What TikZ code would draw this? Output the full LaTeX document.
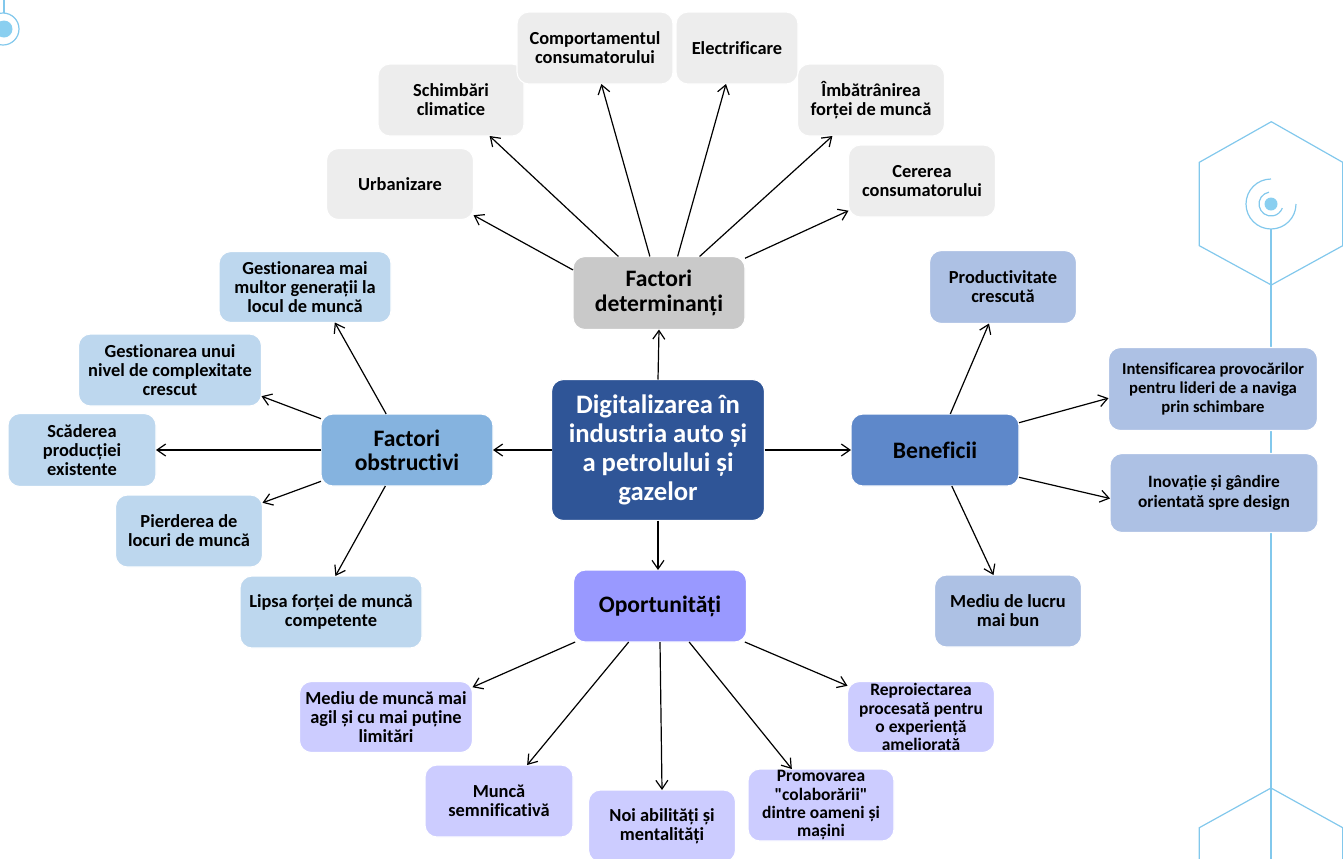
\documentclass[tikz,border=0pt]{standalone}
\usepackage{fontspec}
\setmainfont{Carlito}[Ligatures={NoCommon}]
\newfontfamily\qfont{Carlito}[Ligatures={NoCommon}]
\newcommand{\sq}{{\qfont\bfseries\char34}}
\usetikzlibrary{arrows.meta}
\definecolor{cgray}{HTML}{EDEDED}
\definecolor{cfd}{HTML}{C9C9C9}
\definecolor{ccenter}{HTML}{2F5597}
\definecolor{cfo}{HTML}{85B3DF}
\definecolor{clb}{HTML}{BDD7EE}
\definecolor{cben}{HTML}{5E88CA}
\definecolor{crb}{HTML}{ADC1E4}
\definecolor{cop}{HTML}{9999FF}
\definecolor{cpb}{HTML}{CCCCFF}
\definecolor{cdeco}{HTML}{82C8EC}
\definecolor{cdecofill}{HTML}{8ACFF0}
\begin{document}
\begin{tikzpicture}[x=0.75pt,y=-0.75pt,
  base/.style={rectangle, rounded corners=9pt, draw=white, line width=0.8pt, align=center,
    inner sep=0pt, outer sep=0pt, text=black, font=\bfseries\fontsize{13.8}{14.4}\selectfont},
  sz/.style 2 args={minimum width=#1*0.75pt, minimum height=#2*0.75pt},
  bigtext/.style={font=\bfseries\fontsize{17.7}{18.2}\selectfont},
  gbox/.style={base, fill=cgray},
  fdbox/.style={base, bigtext, fill=cfd},
  cbox/.style={base, fill=ccenter, text=white, font=\bfseries\fontsize{20}{21.8}\selectfont},
  fobox/.style={base, bigtext, fill=cfo},
  lbbox/.style={base, fill=clb},
  benbox/.style={base, bigtext, fill=cben},
  rbbox/.style={base, fill=crb},
  opbox/.style={base, bigtext, fill=cop},
  pbox/.style={base, fill=cpb},
  tight/.style={font=\bfseries\fontsize{13.1}{13.6}\selectfont},
  arr/.style={-{Straight Barb[length=6.5pt,width=9pt]}, line width=0.9pt, black},
  deco/.style={draw=cdeco, line width=0.9pt}
]
\useasboundingbox (0,0) rectangle (1343,858);

% decorations
\draw[deco] (4,0) -- (4,13);
\draw[deco] (3,29) circle[radius=16];
\fill[cdecofill] (4,29) circle[radius=8.5];
\coordinate (hc) at (1271,204);
\draw[deco] (1271.3,121.7) -- (1342.7,162.3) -- (1342.7,245.7) -- (1271.3,285) -- (1199.3,245.7) -- (1199.3,162.3) -- cycle;
\fill[cdecofill] (hc) circle[radius=6.5];
\draw[deco] ([shift={(-100:12)}]hc) arc[start angle=-100, end angle=-340, radius=12];
\draw[deco] ([shift={(-90:25)}]hc) arc[start angle=-90, end angle=-360, radius=25];
\draw[deco] (1271,229) -- (1271,860);
\draw[deco] (1199.3,870) -- (1199.3,827.7) -- (1271,788) -- (1342.7,827.7) -- (1342.7,870);

% top: factori determinanti
\node[gbox, sz={147}{71}] (urb) at (400,184) {Urbanizare};
\node[gbox, sz={146}{72}] (sch) at (451,100) {Schimbări\\climatice};
\node[gbox, sz={156}{72}] (comp) at (595,48) {Comportamentul\\consumatorului};
\node[gbox, sz={122}{72}] (elec) at (737,48) {Electrificare};
\node[gbox, sz={147}{72}] (imb) at (871,100) {Îmbătrânirea\\forței de muncă};
\node[gbox, sz={147}{72}] (cer) at (922,181) {Cererea\\consumatorului};
\node[fdbox, sz={172}{73}] (fd) at (659,293) {Factori\\determinanți};

% center
\node[cbox, sz={213}{141}] (c) at (658,450) {Digitalizarea în\\industria auto și\\a petrolului și\\gazelor};

% left: factori obstructivi
\node[fobox, sz={172}{72}] (fo) at (407,450) {Factori\\obstructivi};
\node[lbbox, sz={172}{71}] (gm) at (305,287) {Gestionarea mai\\multor generații la\\locul de muncă};
\node[lbbox, sz={183}{72}] (gu) at (170,370) {Gestionarea unui\\nivel de complexitate\\crescut};
\node[lbbox, sz={148}{73}] (sc) at (82,450) {Scăderea\\producției\\existente};
\node[lbbox, sz={147}{72}] (pi) at (189,531) {Pierderea de\\locuri de muncă};
\node[lbbox, sz={182}{72}] (li) at (331,612) {Lipsa forței de muncă\\competente};

% right: beneficii
\node[benbox, sz={168}{72}] (ben) at (935,450) {Beneficii};
\node[rbbox, sz={147}{73}] (prod) at (1003,287) {Productivitate\\crescută};
\node[rbbox, sz={209}{83}, font=\bfseries\fontsize{12.5}{14.2}\selectfont] (int) at (1213,389) {Intensificarea provocărilor\\pentru lideri de a naviga\\prin schimbare};
\node[rbbox, sz={208}{79}, font=\bfseries\fontsize{13}{14.8}\selectfont] (inov) at (1214,493) {Inovație și gândire\\orientată spre design};
\node[rbbox, sz={147}{72}] (med) at (1008,611) {Mediu de lucru\\mai bun};

% bottom: oportunitati
\node[opbox, sz={173}{72}] (op) at (660,606) {Oportunități};
\node[pbox, sz={173}{71}] (agil) at (386,717) {Mediu de muncă mai\\agil și cu mai puține\\limitări};
\node[pbox, sz={148}{72}] (munca) at (499,801) {Muncă\\semnificativă};
\node[pbox, sz={147}{72}] (noi) at (662,826) {Noi abilități și\\mentalități};
\node[pbox, tight, sz={146}{72}] (prom) at (821,805) {Promovarea\\\sq colaborării\sq\\dintre oameni și\\mașini};
\node[pbox, tight, sz={147}{71}] (rep) at (921,717) {Reproiectarea\\procesată pentru\\o experiență\\ameliorată};

% connectors
\draw[arr] (c.north) -- (fd.south);
\draw[arr] (c.west) -- (fo.east);
\draw[arr] (c.east) -- (ben.west);
\draw[arr] (c.south) -- (op.north -| c.south);

\draw[arr] (fd.165) -- (urb.-23);
\draw[arr] (fd.138) -- (sch.-43);
\draw[arr] (fd.104) -- (comp.-80);
\draw[arr] (fd.63) -- (elec.-107);
\draw[arr] (fd.42) -- (imb.-137);
\draw[arr] (fd.22) -- (cer.-158);

\draw[arr] (fo.120) -- (gm.-50);
\draw[arr] (fo.160) -- (gu.-16);
\draw[arr] (fo.west) -- (sc.east);
\draw[arr] (fo.200) -- (pi.21);
\draw[arr] (fo.-121) -- (li.83);

\draw[arr] (ben.67) -- (prod.-111);
\draw[arr] (ben.18) -- (int.185);
\draw[arr] (ben.-18) -- (inov.183);
\draw[arr] (ben.-65) -- (med.112);

\draw[arr] (op.203) -- (agil.19);
\draw[arr] (op.-131) -- (munca.52);
\draw[arr] (op.south) -- (noi.north);
\draw[arr] (op.-51) -- (prom.129);
\draw[arr] (op.-23) -- (rep.157);
\end{tikzpicture}
\end{document}
